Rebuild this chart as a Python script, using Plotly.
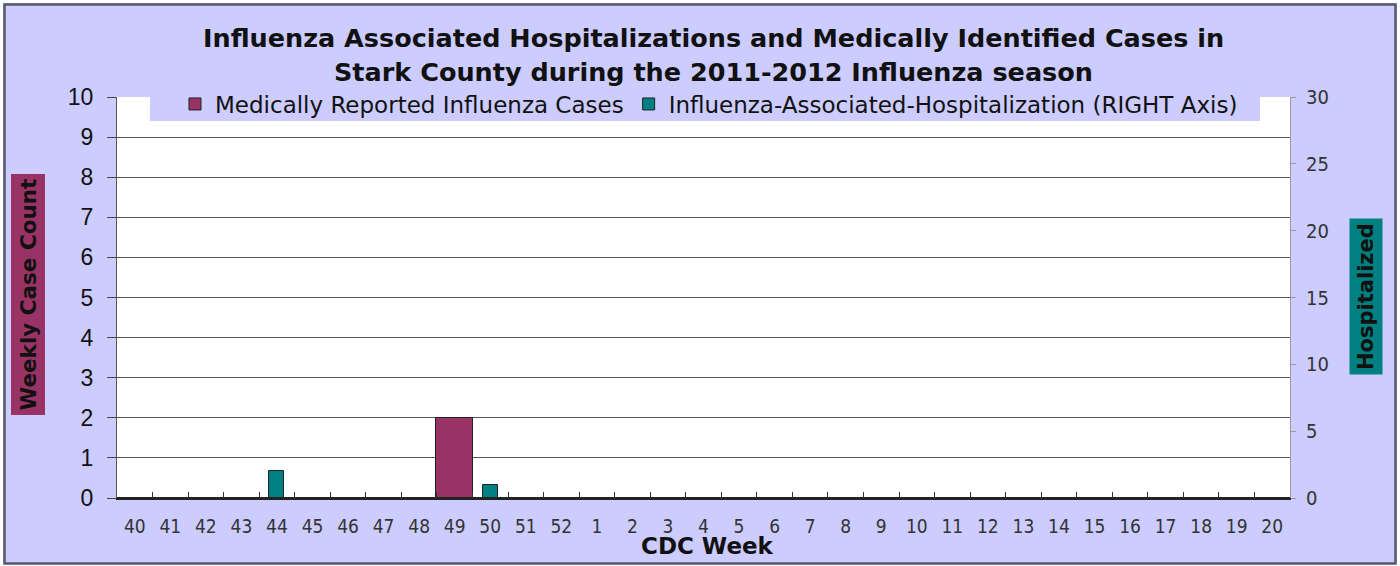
import plotly.graph_objects as go

# ---------------- data ----------------
weeks = ["40", "41", "42", "43", "44", "45", "46", "47", "48", "49", "50", "51", "52",
         "1", "2", "3", "4", "5", "6", "7", "8", "9", "10", "11", "12", "13", "14",
         "15", "16", "17", "18", "19", "20"]
medically_reported_cases = [0, 0, 0, 0, 0, 0, 0, 0, 0, 2, 0, 0, 0,
                            0, 0, 0, 0, 0, 0, 0, 0, 0, 0, 0, 0, 0, 0,
                            0, 0, 0, 0, 0, 0]
hospitalizations = [0, 0, 0, 0, 2, 0, 0, 0, 0, 0, 1, 0, 0,
                    0, 0, 0, 0, 0, 0, 0, 0, 0, 0, 0, 0, 0, 0,
                    0, 0, 0, 0, 0, 0]
left_ticks = [0, 1, 2, 3, 4, 5, 6, 7, 8, 9, 10]
right_ticks = [0, 5, 10, 15, 20, 25, 30]

title_lines = ["Influenza Associated Hospitalizations and Medically Identified Cases in",
               "Stark County during the 2011-2012 Influenza season"]

# ---------------- layout geometry ----------------
W, H = 1400, 566
L, R, T, B = 117, 110, 97, 68
PW, PH = W - L - R, H - T - B

def px(x):
    return (x - L) / PW

def py(y):
    return (H - B - y) / PH

LAV = "#CCCCFF"
MAROON = "#993366"
TEAL = "#008080"
NARROW = "Liberation Sans Narrow, Arial Narrow, DejaVu Sans Condensed, Liberation Sans, Arial"
ARIAL = "Liberation Sans, Arial"
WIDE = "DejaVu Sans, Verdana, Liberation Sans"

fig = go.Figure()
fig.add_trace(go.Bar(
    x=weeks, y=medically_reported_cases, name="Medically Reported Influenza Cases",
    marker=dict(color=MAROON, line=dict(color="#222222", width=1)),
    width=1.04, offset=-0.52, yaxis="y",
))
fig.add_trace(go.Bar(
    x=weeks, y=hospitalizations, name="Influenza-Associated-Hospitalization (RIGHT Axis)",
    marker=dict(color=TEAL, line=dict(color="#222222", width=1)),
    width=0.42, offset=-0.21, yaxis="y2",
))

fig.update_layout(
    width=W, height=H, autosize=False,
    margin=dict(l=L, r=R, t=T, b=B, pad=0),
    paper_bgcolor=LAV, plot_bgcolor="white",
    barmode="overlay",
    bargap=0,
    showlegend=True,
    legend=dict(
        orientation="h", x=px(709), xanchor="center", y=py(104), yanchor="middle",
        bgcolor="rgba(0,0,0,0)", font=dict(family=WIDE, size=23, color="#111111"),
        itemwidth=30, tracegroupgap=0,
    ),
    xaxis=dict(
        type="category", categoryorder="array", categoryarray=weeks,
        range=[-0.5, len(weeks) - 0.5],
        tickson="boundaries", ticks="inside", ticklen=6, tickcolor="#333333", tickwidth=1,
        showline=True, linecolor="#222222", linewidth=1.5,
        showgrid=False, zeroline=False,
        tickfont=dict(family=NARROW, size=19, color="#333333"),
        ticklabelstandoff=10,
    ),
    yaxis=dict(
        range=[0, 10], tickvals=left_ticks, ticks="outside", ticklen=9,
        tickcolor="#444444", showline=True, linecolor="#555555", linewidth=1,
        showgrid=True, gridcolor="#555555", gridwidth=1.2, zeroline=False,
        tickfont=dict(family=ARIAL, size=23, color="#111111"),
        ticklabelstandoff=9,
    ),
    yaxis2=dict(
        range=[0, 30], tickvals=right_ticks, overlaying="y", side="right",
        ticks="outside", ticklen=5, tickcolor="#999999",
        showline=True, linecolor="#999999", linewidth=1,
        showgrid=False, zeroline=False,
        tickfont=dict(family=NARROW, size=20, color="#333333"),
        ticklabelstandoff=6,
    ),
    shapes=[
        # legend background strip
        dict(type="rect", xref="paper", yref="paper", x0=px(150), x1=px(1260),
             y0=py(121), y1=py(87), fillcolor=LAV, line=dict(width=0), layer="above"),
        # outer white edge and grey frame
        dict(type="rect", xref="paper", yref="paper", x0=px(1), x1=px(1399),
             y0=py(565), y1=py(1), fillcolor="rgba(0,0,0,0)",
             line=dict(color="white", width=4), layer="below"),
        dict(type="rect", xref="paper", yref="paper", x0=px(4.5), x1=px(1395.5),
             y0=py(563.5), y1=py(4.5), fillcolor="rgba(0,0,0,0)",
             line=dict(color="#55586A", width=2.5), layer="below"),
    ],
    annotations=[
        dict(text="<b>" + title_lines[0] + "</b>", xref="paper", yref="paper",
             x=px(713), y=py(38), xanchor="center", yanchor="middle",
             showarrow=False, font=dict(family=WIDE, size=25.5, color="#111111")),
        dict(text="<b>" + title_lines[1] + "</b>", xref="paper", yref="paper",
             x=px(713), y=py(72), xanchor="center", yanchor="middle",
             showarrow=False, font=dict(family=WIDE, size=25.5, color="#111111")),
        dict(text="<b>Weekly Case Count</b>", xref="paper", yref="paper",
             x=px(27.5), y=py(295), xanchor="center", yanchor="middle",
             textangle=-90, showarrow=False, bgcolor=MAROON, borderpad=4,
             font=dict(family=WIDE, size=21.5, color="#111111")),
        dict(text="<b>Hospitalized</b>", xref="paper", yref="paper",
             x=px(1366), y=py(297), xanchor="center", yanchor="middle",
             textangle=-90, showarrow=False, bgcolor=TEAL, borderpad=4,
             font=dict(family=WIDE, size=21, color="#111111")),
        dict(text="<b>CDC Week</b>", xref="paper", yref="paper",
             x=px(707), y=py(546), xanchor="center", yanchor="middle",
             showarrow=False, font=dict(family=WIDE, size=23, color="#111111")),
    ],
)

fig.write_html("out.html", config={"displayModeBar": False},
               post_script="document.body.style.margin='0px';")
